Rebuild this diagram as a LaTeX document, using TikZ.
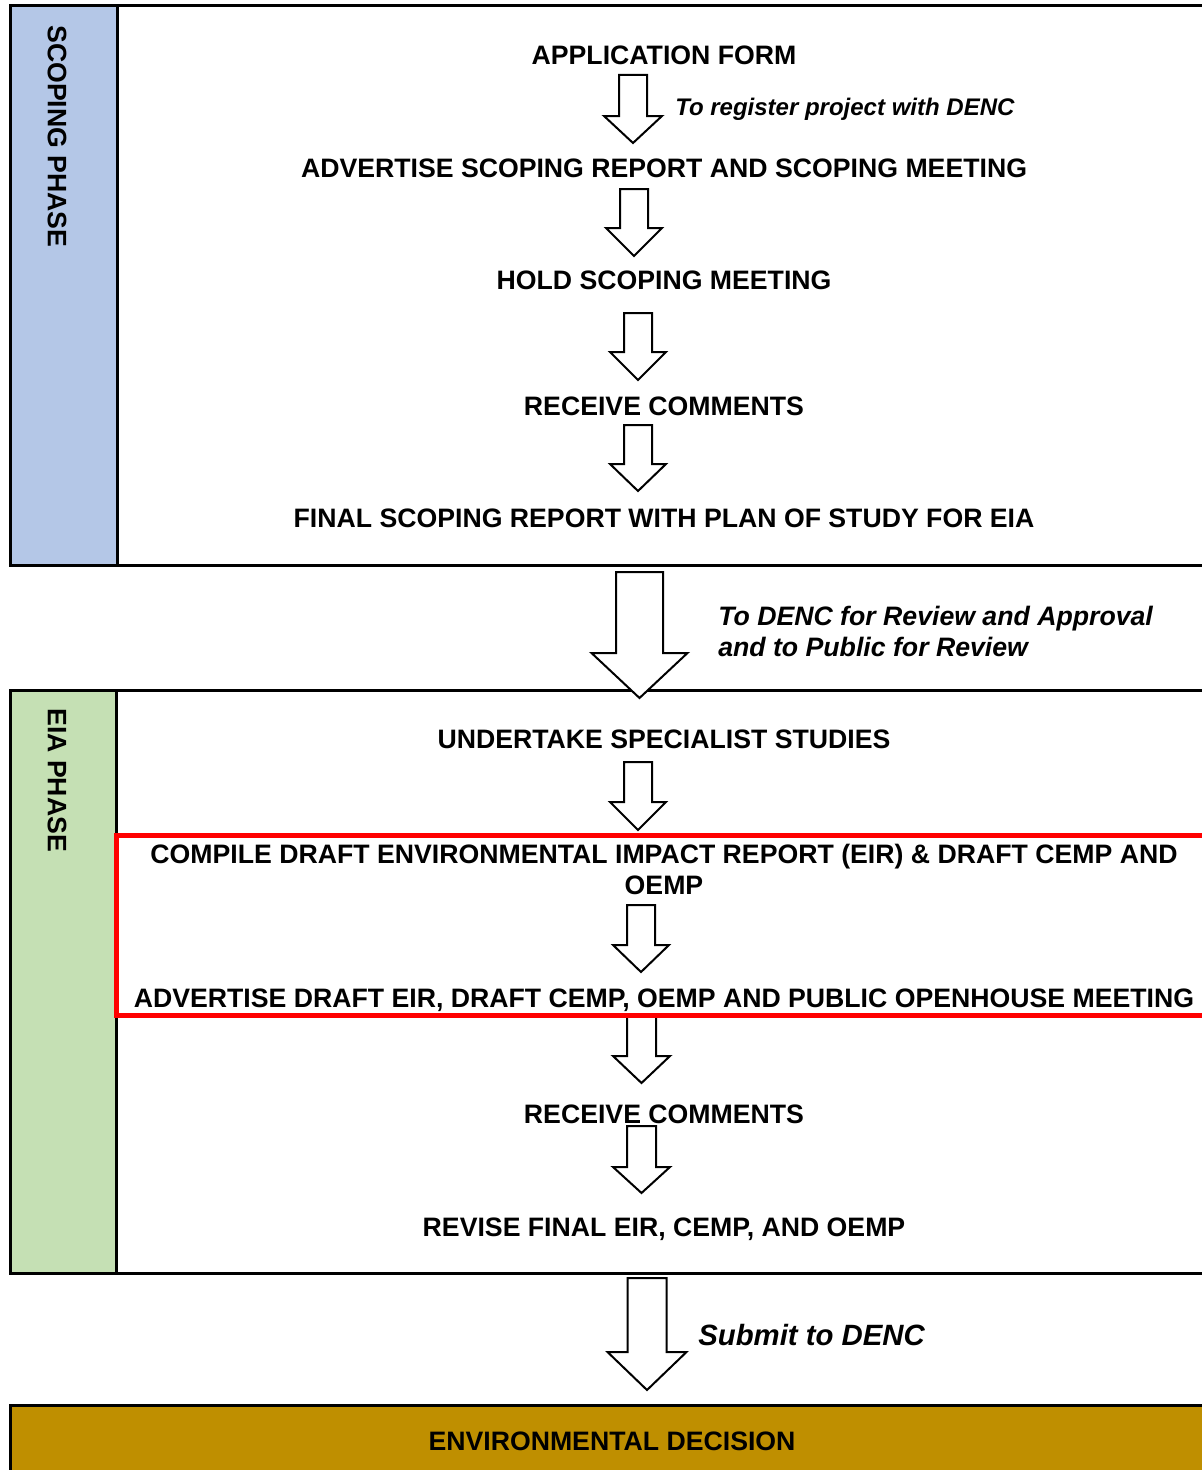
\documentclass[tikz,border=0pt]{standalone}
\usepackage{fontspec}
\setmainfont{Liberation Sans}
\definecolor{scopeblue}{HTML}{B4C7E7}
\definecolor{eiagreen}{HTML}{C5E0B4}
\definecolor{decgold}{HTML}{BF8F00}
\tikzset{
  heading/.style={font=\bfseries\fontsize{20}{24}\selectfont, anchor=base, inner sep=0pt},
  note/.style={font=\bfseries\itshape\fontsize{18}{22}\selectfont, anchor=base west, inner sep=0pt},
  bignote/.style={font=\bfseries\itshape\fontsize{20}{24}\selectfont, anchor=base west, inner sep=0pt},
  phase/.style={font=\bfseries\fontsize{20}{24}\selectfont, anchor=west, rotate=-90, inner sep=0pt},
  frame/.style={draw=black, line width=2.25pt},
  redframe/.style={draw=red, line width=3.4pt},
  blockarrow/.style={draw=black, fill=white, line width=1.5pt, line join=miter}
}
\newcommand{\barrow}[6]{%
  \draw[blockarrow] ({#1-#5},#2) -- ({#1+#5},#2) -- ({#1+#5},#3) -- ({#1+#6},#3) -- (#1,#4) -- ({#1-#6},#3) -- ({#1-#5},#3) -- cycle;}
\begin{document}
\begin{tikzpicture}[x=0.75pt,y=-0.75pt]
\useasboundingbox (0,0) rectangle (1202,1470);
\clip (0,0) rectangle (1202,1470);
\fill[white] (0,0) rectangle (1202,1470);

% ---------- scoping phase box
\fill[scopeblue] (10,6) rectangle (117,565);
\draw[frame] (1240,6) -- (10,6) -- (10,565) -- (1240,565);
\draw[frame] (117,6) -- (117,565);
\node[phase] (scp) at (57,25) {SCOPING PHASE};

% ---------- EIA phase box
\fill[eiagreen] (10,690) rectangle (116,1273);
\draw[frame] (1240,690) -- (10,690) -- (10,1273) -- (1240,1273);
\draw[frame] (116,690) -- (116,1273);
\node[phase] (eia) at (57,708) {EIA PHASE};

% ---------- decision box
\fill[decgold] (10,1405) rectangle (1240,1490);
\draw[frame] (10,1490) -- (10,1405) -- (1240,1405);
\node[heading] (dec) at (612,1450.5) {ENVIRONMENTAL DECISION};

% ---------- scoping steps
\node[heading] (app) at (664,64.5) {APPLICATION FORM};
\node[note] (reg) at (675,115.5) {To register project with DENC};
\node[heading] (adv) at (664,177.5) {ADVERTISE SCOPING REPORT AND SCOPING MEETING};
\node[heading] (hold) at (664,289.5) {HOLD SCOPING MEETING};
\node[heading] (rc1) at (664,415.5) {RECEIVE COMMENTS};
\node[heading] (fsr) at (664,527.5) {FINAL SCOPING REPORT WITH PLAN OF STUDY FOR EIA};

\barrow{633}{75}{116}{143}{14}{29}
\barrow{634}{189}{228}{256}{14}{28}
\barrow{638}{313}{352}{380}{14}{28}
\barrow{638}{425}{464}{491}{14}{28}

% ---------- to DENC
\barrow{639.5}{572}{653}{698}{23.5}{48}
\node[bignote] (rev1) at (718,625.5) {To DENC for Review and Approval};
\node[bignote] (rev2) at (718,656.5) {and to Public for Review};

% ---------- EIA steps
\node[heading] (und) at (664,748.5) {UNDERTAKE SPECIALIST STUDIES};
\node[heading] (cmp1) at (664,863.5) {COMPILE DRAFT ENVIRONMENTAL IMPACT REPORT (EIR) \& DRAFT CEMP AND};
\node[heading] (cmp2) at (664,894.5) {OEMP};
\node[heading] (advd) at (664,1007.5) {ADVERTISE DRAFT EIR, DRAFT CEMP, OEMP AND PUBLIC OPENHOUSE MEETING};
\node[heading] (rc2) at (664,1123.5) {RECEIVE COMMENTS};
\node[heading] (rvs) at (664,1236.5) {REVISE FINAL EIR, CEMP, AND OEMP};

\barrow{638}{762}{802}{830}{14}{28}
\barrow{641}{905}{945}{972}{14}{28}
\barrow{641.5}{1016}{1056}{1083}{14.5}{28.5}
\barrow{641.5}{1126}{1167}{1193}{14.5}{28.5}

\draw[redframe] (1240,835.5) -- (116.5,835.5) -- (116.5,1015.5) -- (1240,1015.5);

% ---------- submit
\barrow{647}{1278}{1352}{1390}{19.5}{39.5}
\node[bignote, font=\bfseries\itshape\fontsize{22}{26}\selectfont] (sub) at (698,1345.5) {Submit to DENC};
\end{tikzpicture}
\end{document}
